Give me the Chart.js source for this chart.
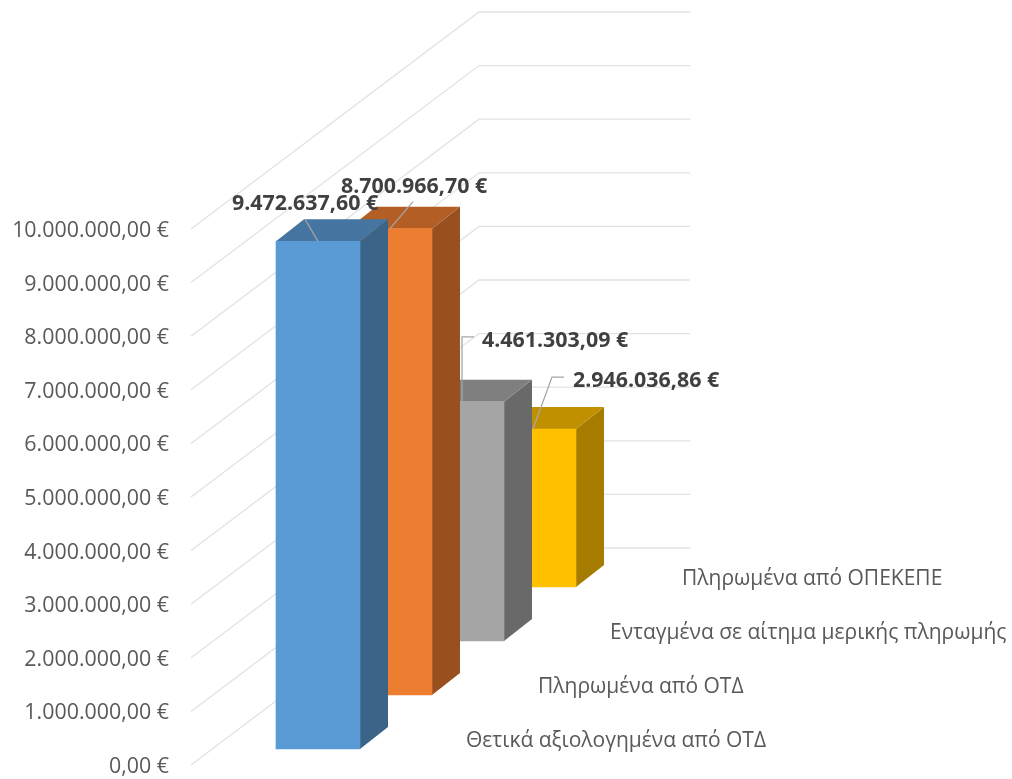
<!DOCTYPE html>
<html>
<head>
<meta charset="utf-8">
<style>
  html, body { margin: 0; padding: 0; background: #fff; }
  canvas { display: block; }
</style>
<script src="https://cdn.jsdelivr.net/npm/chart.js@4"></script>
</head>
<body>
<canvas id="payments_chart" width="1012" height="779"></canvas>
<script>
// data, front bar first
const categories = [
    "Θετικά αξιολογημένα από ΟΤΔ",
    "Πληρωμένα από ΟΤΔ",
    "Ενταγμένα σε αίτημα μερικής πληρωμής",
    "Πληρωμένα από ΟΠΕΚΕΠΕ"
];
const amounts = [9472637.60, 8700966.70, 4461303.09, 2946036.86];
const axisMax = 10000000;
const axisStep = 1000000;

// colours of each bar: front, top, side
const frontColors = ["#5B9BD5", "#ED7D31", "#A5A5A5", "#FFC000"];
const topColors = ["#4675A2", "#B25E25", "#7F7F7F", "#C09000"];
const sideColors = ["#3A6488", "#9A4F1E", "#696969", "#A67C00"];

// leader line and text of the value labels, relative to the top of the front face
const leaders = [
    [[0, 0], [-13, -22]],
    [[0, 0], [23, -27]],
    [[0, 0], [0, -65], [12, -65]],
    [[-1, 0], [18, -52], [30, -52]]
];
const labelOffsets = [[-86, -37], [-49, -42], [20, -61], [39, -48]];

const FONT = '"Open Sans", "Noto Sans", sans-serif';
const TEXT_SIZE = 21;
const NUMBER_SIZE = 21.4;
const GRID_SHIFT = 2;     // tick text sits a little lower than its grid line
const DEPTH_STEP_Y = 54;  // every bar sits this much further back
const FRONT_LIFT = 18;    // first bar stands a bit above the front edge of the floor
const SIDE_X = 28;
const SIDE_Y = 22;
const WALL_X = 288;
const WALL_Y = 217;

function money(v) {
    let s = v.toFixed(2).replace(".", ",");
    return s.replace(/\B(?=(\d{3})+(?!\d))/g, ".") + " €";
}

function liftOf(i) {
    return FRONT_LIFT + DEPTH_STEP_Y * i;
}

const bars3d = {
    id: "bars3d",
    // floor and back wall lines
    beforeDatasetsDraw(chart) {
        let ctx = chart.ctx;
        let yScale = chart.scales.y;
        let left = chart.chartArea.left - 91;
        ctx.save();
        ctx.strokeStyle = "#E2E2E2";
        ctx.lineWidth = 1.3;
        yScale.ticks.forEach(function (t) {
            let py = yScale.getPixelForValue(t.value) - GRID_SHIFT;
            ctx.beginPath();
            ctx.moveTo(left, py);
            ctx.lineTo(left + WALL_X, py - WALL_Y);
            ctx.lineTo(690, py - WALL_Y);
            ctx.stroke();
        });
        ctx.restore();
    },
    // top and side faces, the library draws the front face after this
    beforeDatasetDraw(chart, args) {
        let i = args.index;
        let ctx = chart.ctx;
        let bar = chart.getDatasetMeta(i).data[i];
        ctx.save();
        ctx.translate(0, -liftOf(i));
        let l = bar.x - bar.width / 2;
        let r = bar.x + bar.width / 2;
        ctx.fillStyle = sideColors[i];
        ctx.beginPath();
        ctx.moveTo(r, bar.y);
        ctx.lineTo(r + SIDE_X, bar.y - SIDE_Y);
        ctx.lineTo(r + SIDE_X, bar.base - SIDE_Y);
        ctx.lineTo(r, bar.base);
        ctx.closePath();
        ctx.fill();
        ctx.fillStyle = topColors[i];
        ctx.beginPath();
        ctx.moveTo(l, bar.y);
        ctx.lineTo(l + SIDE_X, bar.y - SIDE_Y);
        ctx.lineTo(r + SIDE_X, bar.y - SIDE_Y);
        ctx.lineTo(r, bar.y);
        ctx.closePath();
        ctx.fill();
    },
    afterDatasetDraw(chart) {
        chart.ctx.restore();
    },
    afterDatasetsDraw(chart) {
        let ctx = chart.ctx;
        ctx.save();
        ctx.textBaseline = "middle";
        ctx.textAlign = "left";
        categories.forEach(function (name, i) {
            let bar = chart.getDatasetMeta(i).data[i];
            let top = bar.y - liftOf(i);
            // leader line
            ctx.strokeStyle = "#A6A6A6";
            ctx.lineWidth = 1.3;
            ctx.beginPath();
            leaders[i].forEach(function (p, n) {
                if (n === 0) ctx.moveTo(bar.x + p[0], top + p[1]);
                else ctx.lineTo(bar.x + p[0], top + p[1]);
            });
            ctx.stroke();
            // value
            ctx.fillStyle = "#404040";
            ctx.font = "bold " + NUMBER_SIZE + "px " + FONT;
            ctx.fillText(money(amounts[i]), bar.x + labelOffsets[i][0], top + labelOffsets[i][1]);
            // category name next to the foot of the bar
            ctx.fillStyle = "#595959";
            ctx.font = TEXT_SIZE + "px " + FONT;
            ctx.fillText(name, bar.x + 148, bar.base - liftOf(i) - 8);
        });
        ctx.restore();
    }
};

new Chart("payments_chart", {
    type: "bar",
    data: {
        labels: categories,
        datasets: categories.map(function (name, i) {
            return {
                label: name,
                data: categories.map(function (c, j) { return j === i ? amounts[i] : null; }),
                backgroundColor: frontColors[i],
                barThickness: 84,
                grouped: false,
                clip: false
            };
        })
    },
    options: {
        responsive: false,
        animation: false,
        layout: { padding: { top: 231, bottom: 12, left: 0, right: 442 } },
        plugins: {
            legend: { display: false },
            title: { display: false },
            tooltip: { enabled: false }
        },
        scales: {
            x: { display: false },
            y: {
                min: 0,
                max: axisMax,
                // the big tick padding would also be added above and below the axis
                afterFit: function (scale) {
                    scale.width = 282;
                    scale.paddingTop = 0;
                    scale.paddingBottom = 0;
                },
                border: { display: false },
                grid: { display: false, drawTicks: false },
                ticks: {
                    stepSize: axisStep,
                    padding: 113,
                    color: "#595959",
                    font: { family: FONT, size: NUMBER_SIZE },
                    callback: function (v) { return money(v); }
                }
            }
        }
    },
    plugins: [bars3d]
});
</script>
</body>
</html>
